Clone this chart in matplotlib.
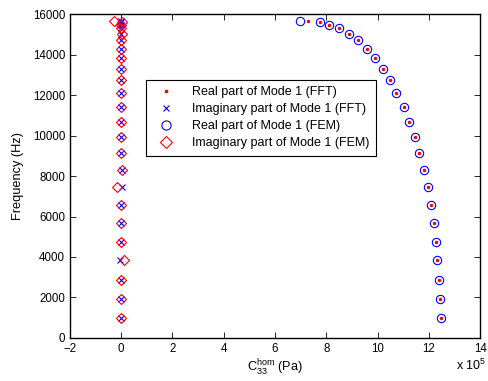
import matplotlib
matplotlib.use("Agg")
import matplotlib.pyplot as plt
import numpy as np

plt.rcParams['font.family'] = ['Liberation Sans', 'DejaVu Sans']
plt.rcParams['mathtext.default'] = 'regular'

# frequencies (Hz)
freq = [973, 1926, 2864, 3837, 4756, 5664, 6568, 7442, 8296, 9121, 9941,
        10667, 11393, 12084, 12726, 13299, 13827, 14286, 14701, 15027,
        15294, 15472, 15590, 15654]

# C33 hom, units of 1e5 Pa
real_fft = [12.48, 12.44, 12.41, 12.32, 12.26, 12.18, 12.08, 11.96, 11.80,
            11.62, 11.44, 11.23, 11.02, 10.73, 10.50, 10.21, 9.91, 9.58,
            9.24, 8.88, 8.51, 8.12, 7.77, 7.27]
imag_fft = [0.0, 0.0, 0.0, -0.03, 0.0, 0.0, 0.0, 0.03, 0.02, 0.0, 0.0, 0.0,
            0.0, 0.0, 0.0, 0.0, 0.0, 0.0, 0.0, 0.0, 0.0, 0.0, 0.0, 0.0]
real_fem = [12.48, 12.44, 12.41, 12.32, 12.26, 12.18, 12.08, 11.96, 11.80,
            11.62, 11.44, 11.23, 11.02, 10.73, 10.50, 10.21, 9.91, 9.58,
            9.24, 8.88, 8.51, 8.12, 7.77, 6.98]
imag_fem = [0.0, 0.0, 0.0, 0.11, 0.0, -0.02, 0.0, -0.15, 0.02, 0.0, 0.0,
            0.0, 0.0, 0.0, 0.0, 0.0, 0.0, 0.0, 0.0, 0.02, 0.0, 0.0, 0.02, -0.27]

labels = ['Real part of Mode 1 (FFT)', 'Imaginary part of Mode 1 (FFT)',
          'Real part of Mode 1 (FEM)', 'Imaginary part of Mode 1 (FEM)']

fig = plt.figure(figsize=(4.89, 3.81), dpi=100)
ax = fig.add_axes([0.143, 0.113, 0.839, 0.850])

ax.plot(real_fft, freq, '.', color='red', markersize=3, label=labels[0])
ax.plot(imag_fft, freq, 'x', color='blue', markersize=4, markeredgewidth=0.8, label=labels[1])
ax.plot(real_fem, freq, 'o', mfc='none', mec='blue', markersize=6, markeredgewidth=0.8, label=labels[2])
ax.plot(imag_fem, freq, 'D', mfc='none', mec='red', markersize=5.5, markeredgewidth=0.8, label=labels[3])

ax.set_xlim(-2, 14)
ax.set_ylim(0, 16000)
ax.set_xticks(np.arange(-2, 15, 2))
ax.set_yticks(np.arange(0, 16001, 2000))
ax.tick_params(direction='in', top=True, right=True, labelsize=8.3, length=4, width=0.6)
for s in ax.spines.values():
    s.set_linewidth(1.0)

ax.set_xlabel('$C_{33}^{hom}$ (Pa)', fontsize=9.2, labelpad=2)
ax.set_ylabel('Frequency (Hz)', fontsize=9.2, labelpad=6)
fig.text(0.994, 0.02, 'x 10$^5$', ha='right', va='bottom', fontsize=9)

leg = ax.legend(loc='upper left', bbox_to_anchor=(0.185, 0.796), fontsize=9,
                fancybox=False, framealpha=1, edgecolor='black',
                borderpad=0.5, labelspacing=0.4, handletextpad=1.0,
                handlelength=2.2, markerscale=1.1, borderaxespad=0)
leg.get_frame().set_linewidth(0.8)

fig.savefig('out.png', dpi=100)
